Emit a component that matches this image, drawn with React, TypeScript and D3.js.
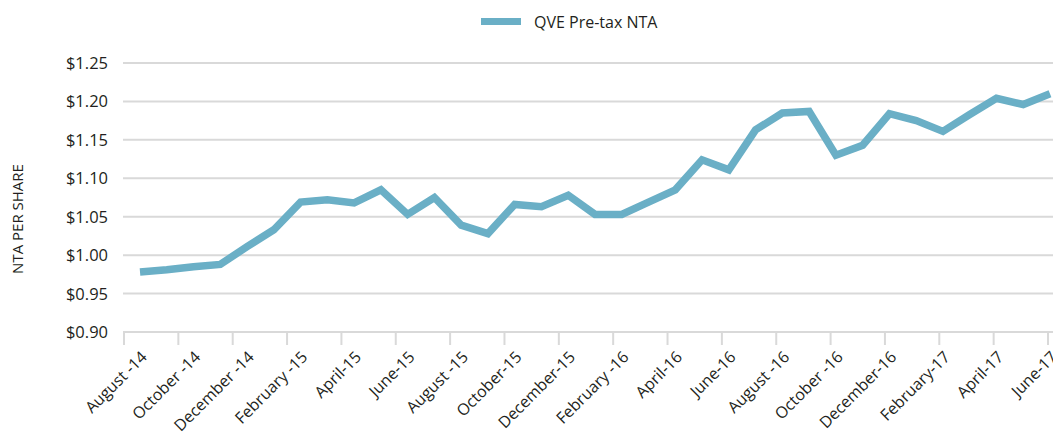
import React from "react";
import * as d3 from "d3";

const months = [
  "Aug-14","Sep-14","Oct-14","Nov-14","Dec-14","Jan-15","Feb-15","Mar-15","Apr-15","May-15","Jun-15","Jul-15",
  "Aug-15","Sep-15","Oct-15","Nov-15","Dec-15","Jan-16","Feb-16","Mar-16","Apr-16","May-16","Jun-16","Jul-16",
  "Aug-16","Sep-16","Oct-16","Nov-16","Dec-16","Jan-17","Feb-17","Mar-17","Apr-17","May-17","Jun-17",
];

const ntaValues = [
  0.978, 0.981, 0.985, 0.988, 1.011, 1.033, 1.069, 1.072, 1.068, 1.085, 1.053, 1.075,
  1.039, 1.028, 1.066, 1.063, 1.078, 1.053, 1.053, 1.069, 1.085, 1.124, 1.111, 1.163,
  1.185, 1.187, 1.130, 1.143, 1.184, 1.175, 1.161, 1.183, 1.204, 1.196, 1.210,
];

const tickLabels = [
  "August -14","October -14","December -14","February -15","April-15","June-15","August -15","October-15",
  "December-15","February -16","April-16","June-16","August -16","October -16","December-16","February-17",
  "April-17","June-17",
];

const yTicks = [0.9, 0.95, 1.0, 1.05, 1.1, 1.15, 1.2, 1.25];

const seriesName = "QVE Pre-tax NTA";
const yTitle = "NTA PER SHARE";

const W = 1053;
const H = 432;
const LINE = "#6aafc6";
const GRID = "#d9d9d9";
const TEXT = "#231f20";
const FONT = "'Open Sans', 'Noto Sans', sans-serif";

export default function App() {
  const x = d3.scalePoint<string>().domain(months).range([140, 1050]);
  const y = d3.scaleLinear().domain([0.9, 1.25]).range([332, 63]);
  const tickX = d3.scaleLinear().domain([0, tickLabels.length - 1]).range([124, 1048]);

  const data = months.map((m, i) => ({ m, v: ntaValues[i] }));
  const line = d3
    .line<{ m: string; v: number }>()
    .x((d) => x(d.m) as number)
    .y((d) => y(d.v));

  const labelMonths = months.filter((_, i) => i % 2 === 0);

  return (
    <svg
      width={W}
      height={H}
      style={{ position: "absolute", left: 0, top: 0, background: "#fff" }}
      fontFamily={FONT}
    >
      {/* legend */}
      <line x1={481} x2={521} y1={21.5} y2={21.5} stroke={LINE} strokeWidth={7} />
      <text x={534} y={27.5} fontSize={16} fill={TEXT}>
        {seriesName}
      </text>

      {/* gridlines */}
      {yTicks.slice(1).map((t) => (
        <line key={t} x1={123} x2={W} y1={y(t)} y2={y(t)} stroke={GRID} strokeWidth={2} />
      ))}

      {/* y labels */}
      {yTicks.map((t) => (
        <text key={"l" + t} x={108} y={y(t) + 6} textAnchor="end" fontSize={16.5} fill={TEXT}>
          {"$" + t.toFixed(2)}
        </text>
      ))}

      {/* y title */}
      <text
        transform={`translate(23, 219) rotate(-90)`}
        textAnchor="middle"
        fontSize={15}
        fill={TEXT}
      >
        {yTitle}
      </text>

      {/* x axis */}
      <line x1={123} x2={W} y1={y(0.9)} y2={y(0.9)} stroke={GRID} strokeWidth={2} />
      {tickLabels.map((_, i) => (
        <line
          key={"t" + i}
          x1={tickX(i)}
          x2={tickX(i)}
          y1={y(0.9)}
          y2={y(0.9) + 13}
          stroke={GRID}
          strokeWidth={2}
        />
      ))}
      {labelMonths.map((m, i) => (
        <text
          key={"xl" + m}
          transform={`translate(${(x(m) as number) + 8}, 358) rotate(-45)`}
          textAnchor="end"
          fontSize={16}
          fill={TEXT}
        >
          {tickLabels[i]}
        </text>
      ))}

      {/* series */}
      <path d={line(data) || ""} fill="none" stroke={LINE} strokeWidth={7.5} strokeLinejoin="miter" />
    </svg>
  );
}
